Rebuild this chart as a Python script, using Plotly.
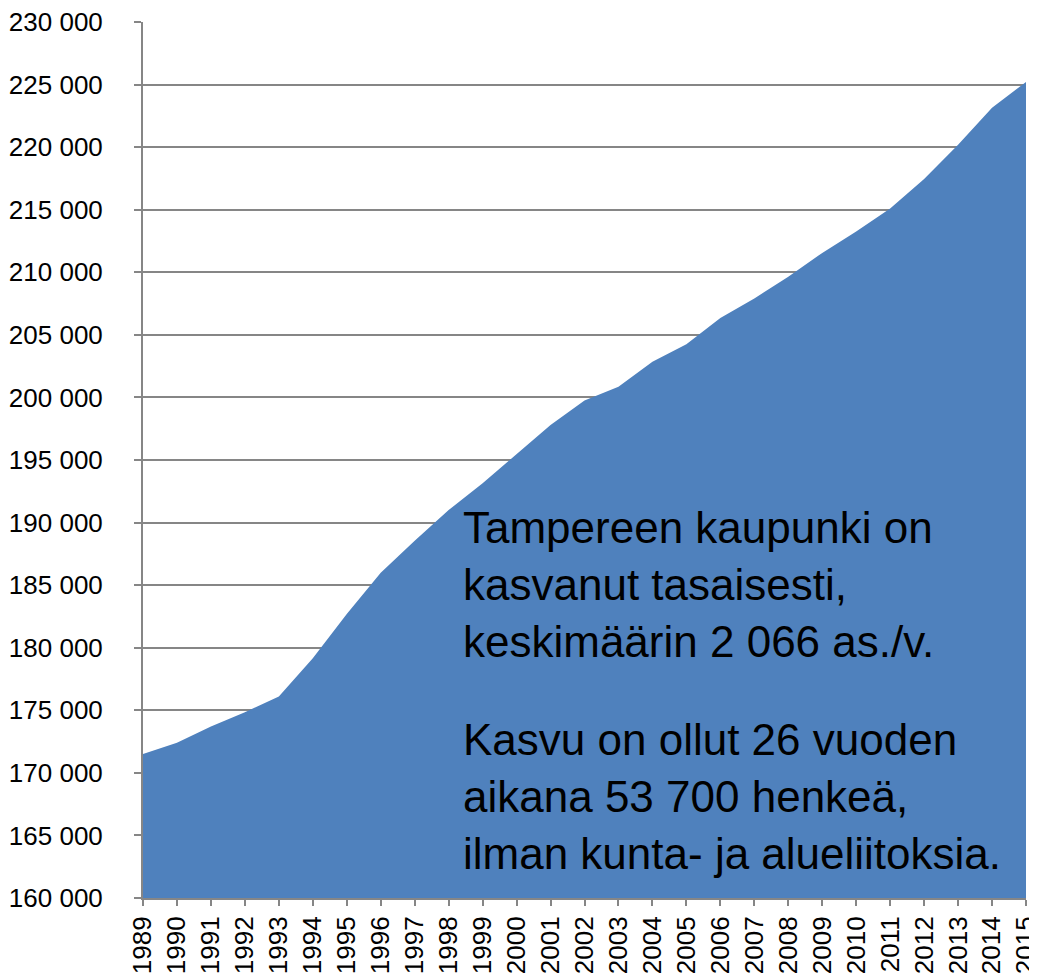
import plotly.graph_objects as go

years = list(range(1989, 2016))
population = [171500, 172400, 173700, 174850, 176100, 179150, 182700, 186000,
              188550, 191000, 193150, 195450, 197800, 199750, 200850, 202850,
              204250, 206350, 207900, 209650, 211550, 213250, 215100, 217450,
              220200, 223150, 225200]
y_ticks = list(range(160000, 230001, 5000))
note_1 = "Tampereen kaupunki on<br>kasvanut tasaisesti,<br>keskimäärin 2 066 as./v."
note_2 = "Kasvu on ollut 26 vuoden<br>aikana 53 700 henkeä,<br>ilman kunta- ja alueliitoksia."

# page is offset by the 8px body margin
OFF = 8
W, H = 1037 - OFF, 974 - OFF
L, R, T, B = 143 - OFF, 11, 22 - OFF, 76

fig = go.Figure()
fig.add_trace(go.Scatter(
    x=years, y=population, mode="lines", fill="tozeroy",
    fillcolor="#4F81BD", line=dict(width=0, color="#4F81BD"),
    hoverinfo="x+y", showlegend=False))

axis_col = "#868686"
fig.update_layout(
    width=W, height=H,
    margin=dict(l=L, r=R, t=T, b=B, autoexpand=False),
    paper_bgcolor="white", plot_bgcolor="white",
    separators=". ",
    font=dict(family="Liberation Sans, Arial, sans-serif", color="black"),
    xaxis=dict(range=[1989, 2015], tickmode="array", tickvals=years,
               ticktext=[str(y) for y in years], tickangle=-90,
               showgrid=False, showline=True, linecolor=axis_col, linewidth=2,
               ticks="outside", ticklen=6, tickcolor=axis_col, tickwidth=2,
               tickfont=dict(size=26), automargin=False, zeroline=False,
               ticklabelstandoff=0, ticklabeloverflow="allow"),
    yaxis=dict(range=[160000, 230000], tickmode="array", tickvals=y_ticks,
               tickformat=",d", showgrid=True, gridcolor=axis_col, gridwidth=1.5,
               showline=True, linecolor=axis_col, linewidth=2,
               ticks="outside", ticklen=7, tickcolor=axis_col, tickwidth=2,
               tickfont=dict(size=26), automargin=False, zeroline=False,
               ticklabelstandoff=26, ticklabeloverflow="allow"),
)

plot_w = W - L - R
plot_h = H - T - B
x_text = (461 - 143) / plot_w
fig.add_annotation(text=note_1, xref="paper", yref="paper",
                   x=x_text, y=(898 - 501) / plot_h, xanchor="left", yanchor="top",
                   align="left", showarrow=False,
                   font=dict(size=44, color="black", family="Liberation Sans, Arial, sans-serif"))
fig.add_annotation(text=note_2, xref="paper", yref="paper",
                   x=x_text, y=(898 - 713) / plot_h, xanchor="left", yanchor="top",
                   align="left", showarrow=False,
                   font=dict(size=44, color="black", family="Liberation Sans, Arial, sans-serif"))

fig.write_html("out.html")
